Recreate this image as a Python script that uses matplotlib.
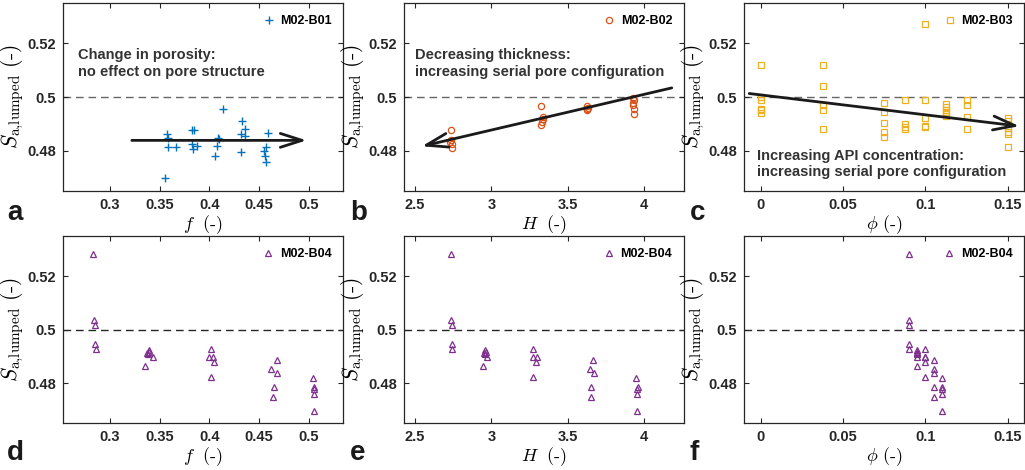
import numpy as np
import matplotlib
matplotlib.use("Agg")
import matplotlib.pyplot as plt
from matplotlib.ticker import FormatStrFormatter

plt.rcParams['font.family'] = ['Liberation Sans', 'DejaVu Sans']
plt.rcParams['font.weight'] = 'bold'
plt.rcParams['mathtext.fontset'] = 'cm'

# ---- data ----
# panel a: M02-B01, S vs porosity f
a_f = [0.3578, 0.3582, 0.3588, 0.3665, 0.3555,
       0.3830, 0.3850, 0.3824, 0.3874, 0.3834,
       0.4089, 0.4095, 0.4082, 0.4055, 0.4143,
       0.4328, 0.4355, 0.4318, 0.4361, 0.4318,
       0.4587, 0.4570, 0.4553, 0.4566, 0.4570]
a_s = [0.4863, 0.4846, 0.4815, 0.4815, 0.4696,
       0.4878, 0.4878, 0.4825, 0.4816, 0.4804,
       0.4846, 0.4843, 0.4816, 0.4779, 0.4954,
       0.4910, 0.4881, 0.4863, 0.4853, 0.4796,
       0.4865, 0.4813, 0.4800, 0.4779, 0.4756]

# panel b: M02-B02, S vs thickness H
b_h = [2.733, 2.737, 2.730, 2.740, 2.740,
       3.322, 3.339, 3.335, 3.330, 3.325,
       3.627, 3.630, 3.625, 3.628,
       3.928, 3.930, 3.928, 3.926, 3.930, 3.932]
b_s = [0.4878, 0.4840, 0.4831, 0.4825, 0.4809,
       0.4966, 0.4925, 0.4916, 0.4906, 0.4896,
       0.4966, 0.4959, 0.4954, 0.4950,
       0.4997, 0.4988, 0.4978, 0.4969, 0.4954, 0.4936]

# panel c: M02-B03, S vs API fraction phi
c_phi = [0, 0, 0, 0, 0, 0,
         0.0375, 0.0375, 0.0375, 0.0375, 0.0375,
         0.075, 0.075, 0.075, 0.075, 0.075,
         0.0875, 0.0875, 0.0875, 0.0875,
         0.1, 0.1, 0.1, 0.1, 0.1,
         0.1125, 0.1125, 0.1125, 0.1125, 0.1125, 0.1125,
         0.125, 0.125, 0.125, 0.125,
         0.15, 0.15, 0.15, 0.15, 0.15, 0.15]
c_s = [0.5119, 0.5000, 0.4990, 0.4956, 0.4950, 0.4941,
       0.5119, 0.5040, 0.4971, 0.4950, 0.4881,
       0.4979, 0.4944, 0.4904, 0.4871, 0.4849,
       0.4988, 0.4898, 0.4888, 0.4879,
       0.5273, 0.4990, 0.4923, 0.4890, 0.4888,
       0.4975, 0.4963, 0.4953, 0.4944, 0.4938, 0.4928,
       0.4990, 0.4971, 0.4925, 0.4881,
       0.4923, 0.4909, 0.4884, 0.4871, 0.4863, 0.4815]

# panels d-f: M02-B04
d_s = [0.5283, 0.5038, 0.5016, 0.4948, 0.4927,
       0.4925, 0.4917, 0.4913, 0.4908, 0.4898, 0.4864,
       0.4927, 0.4898, 0.4898, 0.4879, 0.4825,
       0.4886, 0.4855, 0.4838, 0.4786, 0.4749,
       0.4820, 0.4786, 0.4777, 0.4759, 0.4695]
d_f = [0.2826, 0.2839, 0.2849, 0.2849, 0.2859,
       0.3397, 0.3392, 0.3376, 0.3385, 0.3437, 0.3353,
       0.4018, 0.3998, 0.4042, 0.4052, 0.4018,
       0.4681, 0.4624, 0.4687, 0.4657, 0.4641,
       0.5040, 0.5057, 0.5050, 0.5050, 0.5057]
d_h = [2.733, 2.735, 2.740, 2.740, 2.745,
       2.955, 2.962, 2.950, 2.955, 2.969, 2.947,
       3.274, 3.274, 3.296, 3.289, 3.274,
       3.666, 3.645, 3.671, 3.653, 3.653,
       3.945, 3.956, 3.953, 3.953, 3.950]
d_phi = [0.09] * 5 + [0.095] * 6 + [0.1] * 5 + [0.105] * 5 + [0.11] * 5

# trend arrows (start, tip)
arrow_a = [(0.322, 0.4838), (0.498, 0.4838)]
arrow_b = [(4.18, 0.5034), (2.545, 0.4816)]
arrow_c = [(-0.007, 0.5013), (0.157, 0.4891)]

f_ticks = [0.3, 0.35, 0.4, 0.45, 0.5]
h_ticks = [2.5, 3, 3.5, 4]
phi_ticks = [0, 0.05, 0.1, 0.15]
s_ticks = [0.48, 0.5, 0.52]

blue = '#0072BD'
orange = '#D95319'
yellow = '#EDB120'
purple = '#7E2F8E'
dark = '#262626'

W, H = 1025, 470
fig = plt.figure(figsize=(W / 100, H / 100), dpi=100)

def rect(x0, y_top, w, h):
    return [x0 / W, 1 - (y_top + h) / H, w / W, h / H]

lefts = [63.3, 404.0, 744.3]
tops = [3.3, 236.0]
aw, ah = 280, 187.4

ax_a = fig.add_axes(rect(lefts[0], tops[0], aw, ah))
ax_b = fig.add_axes(rect(lefts[1], tops[0], aw, ah))
ax_c = fig.add_axes(rect(lefts[2], tops[0], aw, ah))
ax_d = fig.add_axes(rect(lefts[0], tops[1], aw, ah))
ax_e = fig.add_axes(rect(lefts[1], tops[1], aw, ah))
ax_f = fig.add_axes(rect(lefts[2], tops[1], aw, ah))

ylabel = r'$S_{\mathrm{a{,}lumped}}\ (\text{-})$'

def style(ax, xlim, xticks, xlabel, dash_color):
    ax.set_xlim(*xlim)
    ax.set_ylim(0.465, 0.535)
    ax.set_xticks(xticks)
    ax.set_yticks(s_ticks)
    ax.xaxis.set_major_formatter(FormatStrFormatter('%g'))
    ax.yaxis.set_major_formatter(FormatStrFormatter('%g'))
    ax.tick_params(direction='in', top=True, right=True, length=3.5,
                   width=0.8, labelsize=10.5, colors=dark, pad=5)
    for sp in ax.spines.values():
        sp.set_linewidth(0.9)
        sp.set_color(dark)
    ax.axhline(0.5, color=dash_color, lw=1, dashes=(5.5, 3.5), zorder=1)
    ax.set_xlabel(xlabel, fontsize=13, fontweight='normal', labelpad=1)
    ax.set_ylabel(ylabel, fontsize=15.5, fontweight='normal', labelpad=1)

def legend(ax):
    ax.legend(loc='upper right', frameon=False, fontsize=9,
              handlelength=0.8, handletextpad=0.5, borderpad=0.45,
              borderaxespad=0.5)

def arrow(ax, pts):
    ax.annotate('', xy=pts[1], xytext=pts[0],
                arrowprops=dict(arrowstyle='->,head_length=0.78,head_width=0.25',
                                lw=2, color='#1a1a1a', shrinkA=0, shrinkB=0,
                                mutation_scale=20), zorder=5)

# a
ax_a.plot(a_f, a_s, ls='none', marker='+', ms=6, mew=1, color=blue, label='M02-B01')
style(ax_a, (0.253, 0.535), f_ticks, r'$f\ \ (\text{-})$', '0.4')
legend(ax_a)
arrow(ax_a, arrow_a)
ax_a.text(0.054, 0.679, 'Change in porosity:\nno effect on pore structure',
          transform=ax_a.transAxes, fontsize=10.5, color='#333333',
          ha='left', va='center')

# b
ax_b.plot(b_h, b_s, ls='none', marker='o', ms=4.5, mew=0.9, mfc='none',
          color=orange, label='M02-B02')
style(ax_b, (2.428, 4.26), h_ticks, r'$H\ \ (\text{-})$', '0.4')
legend(ax_b)
arrow(ax_b, arrow_b)
ax_b.text(0.04, 0.679, 'Decreasing thickness:\nincreasing serial pore configuration',
          transform=ax_b.transAxes, fontsize=10.5, color='#333333',
          ha='left', va='center')

# c
ax_c.plot(c_phi, c_s, ls='none', marker='s', ms=3.8, mew=0.9, mfc='none',
          color=yellow, label='M02-B03')
style(ax_c, (-0.01, 0.16), phi_ticks, r'$\phi\ (\text{-})$', '0.4')
legend(ax_c)
arrow(ax_c, arrow_c)
ax_c.text(0.046, 0.142, 'Increasing API concentration:\nincreasing serial pore configuration',
          transform=ax_c.transAxes, fontsize=10.5, color='#333333',
          ha='left', va='center')

# d, e, f
for ax, xs, xlim, xt, xl in [
        (ax_d, d_f, (0.253, 0.535), f_ticks, r'$f\ \ (\text{-})$'),
        (ax_e, d_h, (2.428, 4.26), h_ticks, r'$H\ \ (\text{-})$'),
        (ax_f, d_phi, (-0.01, 0.16), phi_ticks, r'$\phi\ (\text{-})$')]:
    ax.plot(xs, d_s, ls='none', marker='^', ms=5, mew=0.9, mfc='none',
            color=purple, label='M02-B04')
    style(ax, xlim, xt, xl, '0.15')
    legend(ax)

# panel letters
for lbl, x, y in [('a', 7, 220), ('b', 350, 220), ('c', 690, 220),
                  ('d', 7, 460), ('e', 350, 460), ('f', 690, 460)]:
    fig.text(x / W, 1 - y / H, lbl, fontsize=20, fontweight='bold',
             ha='left', va='baseline', color='#1a1a1a')

fig.savefig('out.png', dpi=100)
